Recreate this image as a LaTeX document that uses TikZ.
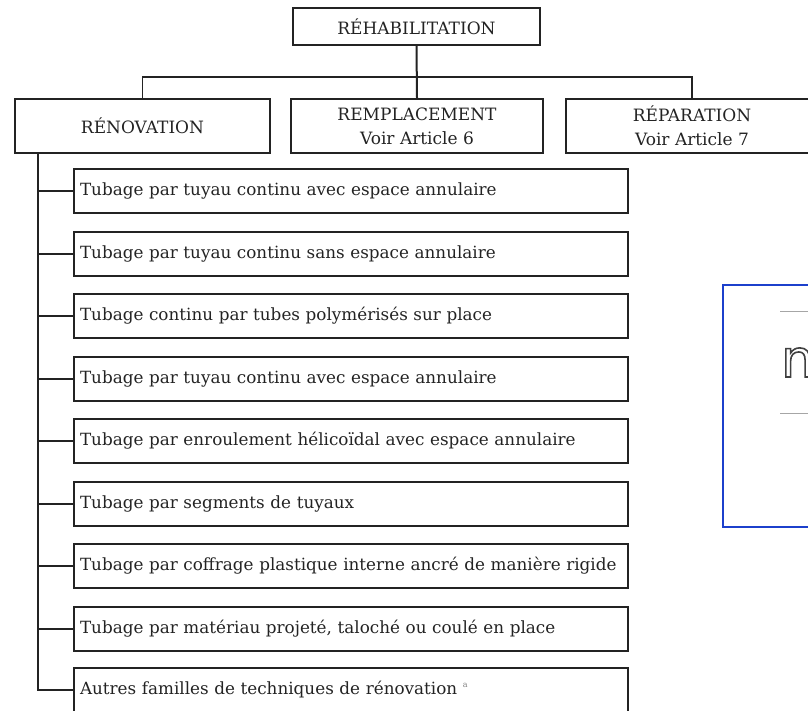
\documentclass[tikz,border=0pt]{standalone}
\usepackage{tikz}
\usepackage{fontspec}
\setmainfont{DejaVu Serif}
\newfontfamily\glyphfont{DejaVu Sans}
\usetikzlibrary{positioning}
\definecolor{inkgray}{RGB}{35,35,35}
\definecolor{frameblue}{RGB}{28,64,204}

\begin{document}
\begin{tikzpicture}[x=1pt, y=-1pt,
        headbox/.style={draw=inkgray, line width=2pt, text=inkgray, align=center, inner sep=0pt,
            minimum width=253pt, minimum height=54pt, font=\fontsize{17}{24}\selectfont},
        itembox/.style={draw=inkgray, line width=2pt, text=inkgray, anchor=west, align=left,
            inner xsep=6pt, inner ysep=0pt, text width=542pt, minimum height=44pt,
            font=\fontsize{16.8}{22}\selectfont},
        trunkline/.style={draw=inkgray, line width=2pt},
        barline/.style={draw=inkgray, line width=1.3pt}]
    \useasboundingbox (0,0) rectangle (808,710);
    \clip (0,0) rectangle (808,710);

    % Top level
    \node[headbox, minimum width=247pt, minimum height=37pt] (rehab) at (416.5,26.5) {RÉHABILITATION};

    % Second level
    \node[headbox, minimum width=255pt] (renov) at (142.5,126) {RÉNOVATION};
    \node[headbox, minimum width=252pt] (remp) at (417,126) {REMPLACEMENT\\Voir Article 6};
    \node[headbox, minimum width=252pt] (repar) at (692,126) {RÉPARATION\\Voir Article 7};

    \coordinate (bar) at (416.5,77);
    \draw[trunkline] (rehab.south) -- (remp.north);
    \draw[barline] (renov.north) |- (bar) -| (repar.north);

    % Renovation families
    \node[itembox] (fam1) at (73,191) {Tubage par tuyau continu avec espace annulaire};
    \node[itembox] (fam2) at (73,253.5) {Tubage par tuyau continu sans espace annulaire};
    \node[itembox] (fam3) at (73,316) {Tubage continu par tubes polymérisés sur place};
    \node[itembox] (fam4) at (73,378.5) {Tubage par tuyau continu avec espace annulaire};
    \node[itembox] (fam5) at (73,441) {Tubage par enroulement hélicoïdal avec espace annulaire};
    \node[itembox] (fam6) at (73,503.5) {Tubage par segments de tuyaux};
    \node[itembox] (fam7) at (73,566) {Tubage par coffrage plastique interne ancré de manière rigide};
    \node[itembox] (fam8) at (73,628.5) {Tubage par matériau projeté, taloché ou coulé en place};
    \node[itembox] (fam9) at (73,690) {Autres familles de techniques de rénovation
        {\fontsize{8}{8}\selectfont\color{gray}\raisebox{7pt}{a}}};

    % Trunk and branches
    \coordinate (trunk) at (38,153);
    \draw[trunkline] (trunk) |- (fam9.west);
    \draw[trunkline] (trunk |- fam1.west) -- (fam1.west);
    \draw[trunkline] (trunk |- fam2.west) -- (fam2.west);
    \draw[trunkline] (trunk |- fam3.west) -- (fam3.west);
    \draw[trunkline] (trunk |- fam4.west) -- (fam4.west);
    \draw[trunkline] (trunk |- fam5.west) -- (fam5.west);
    \draw[trunkline] (trunk |- fam6.west) -- (fam6.west);
    \draw[trunkline] (trunk |- fam7.west) -- (fam7.west);
    \draw[trunkline] (trunk |- fam8.west) -- (fam8.west);

    % Blue frame on the right
    \draw[frameblue, line width=2pt] (723,285) rectangle (840,527);
    \draw[gray!70, line width=1pt] (780,311) -- (840,311);
    \draw[gray!70, line width=1pt] (780,413) -- (840,413);
    \node[anchor=base west, inner sep=0pt, text=black!75] (glyph) at (781,377)
        {\fontsize{52}{52}\glyphfont\special{pdf:literal direct 1.6 w 1 Tr}n\special{pdf:literal direct 0 Tr}};

\end{tikzpicture}
\end{document}
